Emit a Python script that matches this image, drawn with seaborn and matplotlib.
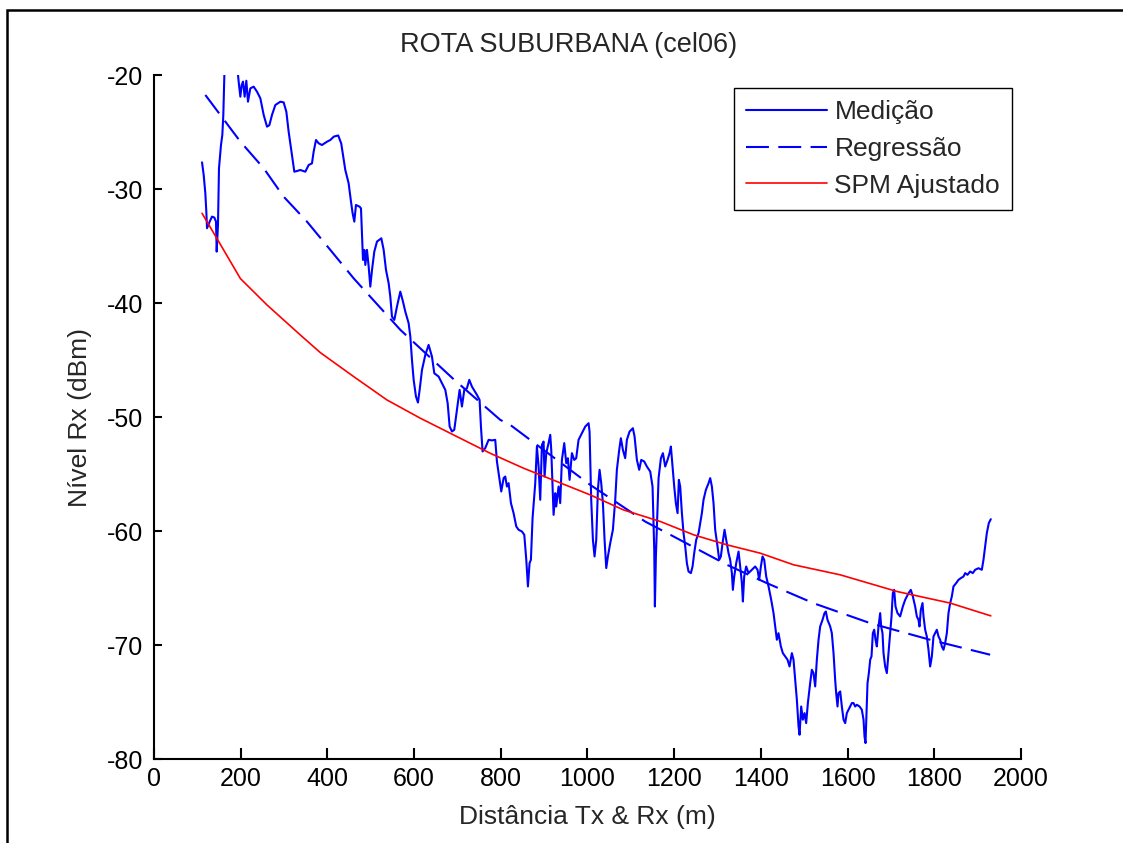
import matplotlib
matplotlib.use('Agg')
import matplotlib.pyplot as plt
import seaborn as sns
from matplotlib.patches import Rectangle

# Medição (distância em m, nível em dBm)
dist_medicao = [
    110.9, 114.7, 118.5, 120.8, 122.4, 128.5, 133.9, 139.3, 143.1, 144.7,
    147.7, 150.0, 154.6, 157.7, 160.0, 162.4, 172.0, 185.0, 193.9, 196.2,
    199.3, 202.3, 205.4, 209.2, 213.1, 216.9, 222.3, 230.0, 237.7, 245.4,
    253.1, 260.8, 266.2, 272.3, 280.0, 291.5, 299.2, 305.4, 310.7, 318.4,
    323.8, 330.0, 337.6, 349.2, 356.9, 364.5, 368.4, 373.8, 379.9, 387.6,
    399.1, 406.8, 415.0, 425.0, 432.0, 441.4, 449.1, 454.5, 458.3, 462.2,
    466.0, 474.5, 477.6, 479.9, 482.2, 485.3, 487.6, 491.4, 495.3, 499.1,
    503.0, 508.3, 514.5, 524.5, 529.9, 535.3, 541.4, 545.2, 549.1, 554.5,
    560.6, 568.3, 574.5, 579.8, 587.5, 591.4, 595.2, 599.1, 604.4, 609.0,
    612.9, 618.3, 626.0, 633.6, 641.3, 646.7, 656.7, 664.4, 672.1, 677.5,
    682.1, 687.4, 692.8, 699.0, 705.1, 710.5, 715.9, 722.0, 727.4, 733.5,
    745.1, 751.2, 754.3, 758.1, 764.3, 772.0, 779.7, 787.3, 791.2, 797.3,
    801.2, 806.6, 810.4, 814.3, 818.1, 823.5, 829.6, 835.8, 841.2, 848.9,
    854.3, 858.9, 862.7, 866.5, 869.6, 873.4, 879.6, 883.4, 887.3, 891.1,
    895.0, 898.8, 901.1, 905.0, 910.3, 914.2, 916.5, 921.9, 925.7, 928.0,
    933.4, 937.2, 941.1, 946.5, 951.1, 954.9, 958.8, 964.2, 969.5, 974.1,
    979.5, 987.2, 994.9, 1002.6, 1004.9, 1008.7, 1012.6, 1016.4, 1020.3, 1024.1,
    1028.0, 1031.8, 1035.7, 1039.5, 1043.4, 1047.2, 1052.6, 1058.7, 1064.1, 1067.9,
    1073.3, 1077.1, 1081.8, 1087.1, 1091.0, 1097.1, 1104.8, 1108.7, 1114.1, 1119.4,
    1124.1, 1131.0, 1137.1, 1144.8, 1150.2, 1154.1, 1155.6, 1157.9, 1160.2, 1164.1,
    1169.5, 1174.1, 1179.4, 1184.8, 1189.4, 1192.5, 1196.3, 1200.2, 1204.0, 1207.9,
    1210.9, 1214.0, 1217.9, 1221.7, 1225.6, 1229.4, 1233.2, 1238.6, 1242.5, 1246.3,
    1250.9, 1256.3, 1260.2, 1264.0, 1267.8, 1273.2, 1279.4, 1283.2, 1287.1, 1290.9,
    1294.7, 1300.1, 1304.0, 1307.8, 1311.7, 1316.3, 1320.1, 1325.5, 1329.3, 1333.2,
    1335.5, 1338.6, 1343.2, 1348.6, 1352.4, 1356.3, 1358.6, 1361.6, 1366.2, 1371.6,
    1379.3, 1387.0, 1392.4, 1396.2, 1400.1, 1403.9, 1407.8, 1412.4, 1417.8, 1423.9,
    1429.3, 1433.1, 1437.0, 1440.8, 1446.2, 1450.8, 1456.2, 1461.6, 1466.2, 1471.6,
    1475.4, 1479.3, 1483.1, 1487.0, 1489.3, 1493.1, 1496.9, 1500.8, 1504.6, 1508.5,
    1513.8, 1517.7, 1521.5, 1525.4, 1529.2, 1533.1, 1536.9, 1542.3, 1546.9, 1550.0,
    1553.8, 1560.0, 1563.8, 1567.7, 1571.5, 1573.8, 1576.9, 1579.2, 1583.1, 1586.9,
    1590.8, 1594.6, 1598.4, 1602.3, 1606.1, 1610.0, 1613.8, 1617.7, 1621.5, 1627.7,
    1633.0, 1636.9, 1639.2, 1641.5, 1643.0, 1646.1, 1649.2, 1652.3, 1655.3, 1658.4,
    1661.5, 1664.6, 1667.6, 1671.5, 1675.3, 1677.6, 1680.7, 1683.0, 1686.8, 1690.7,
    1694.5, 1698.4, 1701.5, 1704.5, 1707.6, 1710.7, 1715.3, 1721.4, 1727.6, 1733.0,
    1740.7, 1746.0, 1750.7, 1756.0, 1759.9, 1763.7, 1766.0, 1769.1, 1773.0, 1775.3,
    1779.1, 1782.9, 1786.8, 1790.6, 1794.5, 1798.3, 1802.2, 1806.0, 1809.9, 1813.7,
    1817.5, 1821.4, 1825.2, 1829.1, 1832.9, 1836.8, 1840.6, 1844.4, 1850.6, 1856.0,
    1861.4, 1867.5, 1871.4, 1876.7, 1882.9, 1889.0, 1894.4, 1902.1, 1909.8, 1913.6,
    1917.5, 1921.3, 1925.9, 1930.5]

nivel_medicao = [
    -27.66, -28.77, -30.37, -31.99, -33.44, -32.86, -32.42, -32.5, -32.86, -35.49,
    -33.15, -28.18, -26.14, -25.26, -23.5, -20.0, -16.0, -17.0, -20.0, -20.88,
    -21.9, -20.88, -20.58, -21.9, -20.5, -22.34, -21.17, -21.02, -21.46, -22.04,
    -23.5, -24.53, -24.4, -23.5, -22.63, -22.34, -22.4, -23.22, -24.97, -27.0,
    -28.48, -28.42, -28.33, -28.48, -27.89, -27.75, -26.72, -25.7, -25.99, -26.14,
    -25.85, -25.7, -25.4, -25.3, -26.0, -28.33, -29.5, -31.1, -32.13, -32.86,
    -31.4, -31.55, -31.7, -33.88, -36.22, -35.34, -36.66, -35.34, -36.81, -38.56,
    -37.1, -35.49, -34.61, -34.32, -35.34, -37.1, -38.26, -39.44, -41.19, -41.48,
    -40.31, -39.0, -39.88, -40.75, -41.77, -42.94, -44.99, -46.74, -48.2, -48.73,
    -47.62, -45.87, -44.55, -43.67, -44.7, -46.16, -46.45, -47.04, -47.62, -48.78,
    -50.83, -51.27, -51.12, -49.37, -47.62, -49.08, -47.62, -47.47, -46.74, -47.33,
    -48.06, -48.5, -50.83, -53.02, -52.72, -52.0, -52.05, -52.0, -53.9, -55.51,
    -56.53, -55.36, -55.22, -56.1, -55.8, -57.55, -58.43, -59.6, -59.89, -60.04,
    -60.33, -62.52, -64.86, -62.81, -62.52, -58.87, -55.8, -52.59, -54.34, -57.26,
    -52.44, -52.15, -55.22, -53.17, -52.29, -51.56, -52.88, -58.58, -56.68, -57.85,
    -56.1, -57.55, -53.76, -52.29, -54.05, -53.61, -55.51, -53.17, -53.76, -53.61,
    -52.0, -51.42, -50.84, -50.54, -51.28, -57.26, -60.77, -62.23, -60.77, -56.39,
    -54.63, -55.8, -57.55, -60.77, -63.25, -62.23, -61.06, -59.89, -57.26, -54.63,
    -52.88, -51.86, -52.88, -53.61, -52.0, -51.28, -50.98, -51.71, -53.76, -54.63,
    -53.76, -53.9, -54.34, -54.78, -56.1, -61.65, -66.62, -62.23, -59.6, -55.36,
    -53.61, -53.17, -54.34, -53.76, -53.17, -52.59, -54.34, -56.1, -57.56, -58.43,
    -55.51, -56.1, -58.43, -60.19, -61.36, -62.82, -63.55, -63.69, -63.11, -61.94,
    -60.77, -60.19, -59.31, -58.43, -57.26, -56.39, -55.8, -55.36, -56.1, -57.56,
    -59.89, -61.36, -62.53, -62.23, -61.06, -59.89, -60.77, -61.94, -62.53, -63.69,
    -65.16, -63.99, -62.82, -61.8, -63.11, -64.57, -66.18, -63.99, -63.11, -63.69,
    -63.4, -63.11, -63.4, -64.28, -63.11, -62.23, -62.53, -63.99, -64.86, -66.03,
    -67.2, -68.37, -69.54, -68.96, -70.12, -70.71, -71.0, -71.29, -71.88, -70.71,
    -71.29, -73.05, -74.8, -77.14, -77.87, -75.39, -76.55, -75.97, -76.85, -75.09,
    -73.34, -72.17, -72.46, -73.63, -71.29, -69.54, -68.37, -67.79, -67.2, -67.06,
    -67.79, -68.37, -68.96, -70.71, -73.05, -74.22, -75.39, -74.22, -74.07, -75.39,
    -76.55, -76.85, -75.97, -75.68, -75.39, -75.09, -75.09, -75.39, -75.24, -75.39,
    -75.68, -76.55, -78.02, -78.6, -76.85, -73.34, -72.46, -71.29, -71.0, -68.96,
    -68.66, -69.54, -70.12, -68.37, -67.2, -68.37, -68.96, -70.71, -71.88, -72.46,
    -70.71, -68.96, -67.49, -65.45, -65.16, -66.62, -67.2, -67.49, -66.62, -66.03,
    -65.45, -65.16, -65.74, -66.62, -67.49, -67.79, -68.37, -66.91, -66.32, -67.49,
    -68.66, -69.25, -70.42, -71.88, -71.0, -69.25, -68.96, -68.66, -69.25, -69.54,
    -70.12, -70.42, -69.83, -68.96, -67.2, -66.32, -65.74, -64.86, -64.57, -64.28,
    -64.13, -63.99, -63.69, -63.84, -63.55, -63.69, -63.4, -63.26, -63.4, -62.53,
    -61.36, -60.19, -59.31, -58.96]

# Regressão
dist_regressao = [118.5, 199.3, 253.1, 299.2, 353.0, 406.8, 460.6, 568.3, 691.2, 798.9,
                  821.9, 1006.4, 1133.3, 1198.7, 1321.7, 1413.9, 1521.5, 1652.3, 1790.6, 1929.0]
nivel_regressao = [-21.75, -25.84, -28.18, -30.67, -32.86, -35.34, -37.83, -42.35, -46.68, -50.25,
                   -50.69, -55.95, -59.17, -60.48, -62.96, -64.57, -66.33, -68.08, -69.54, -70.85]

# SPM Ajustado
dist_spm = [110.9, 145.4, 199.3, 260.8, 337.6, 383.8, 460.6, 537.4, 614.3, 691.2, 775.8, 852.7,
            929.6, 1006.4, 1083.3, 1167.9, 1244.8, 1321.7, 1398.5, 1475.4, 1583.0, 1713.8,
            1836.8, 1930.5]
nivel_spm = [-32.13, -34.35, -37.85, -40.17, -42.8, -44.35, -46.45, -48.5, -50.1, -51.57, -53.18,
             -54.49, -55.66, -56.83, -58.15, -59.16, -60.33, -61.21, -61.94, -62.96, -63.84,
             -65.3, -66.32, -67.44]

x_ticks = list(range(0, 2001, 200))
y_ticks = list(range(-80, -19, 10))

sns.set_style('ticks')
plt.rcParams['font.family'] = ['Liberation Sans', 'DejaVu Sans']
plt.rcParams['axes.unicode_minus'] = False

fig = plt.figure(figsize=(11.23, 8.43), dpi=100)
ax = fig.add_axes([0.1371, 0.0996, 0.7720, 0.8114])

sns.lineplot(x=dist_medicao, y=nivel_medicao, ax=ax, color='#0000ff', lw=1.5,
             label='Medição', estimator=None, sort=False)
sns.lineplot(x=dist_regressao, y=nivel_regressao, ax=ax, color='#0000ff', lw=1.5,
             label='Regressão', estimator=None, sort=False)
ax.lines[-1].set_dashes([11, 4.5])
sns.lineplot(x=dist_spm, y=nivel_spm, ax=ax, color='#ff0000', lw=1.2,
             label='SPM Ajustado', estimator=None, sort=False)

ax.set_xlim(0, 2000)
ax.set_ylim(-80, -20)
ax.set_xticks(x_ticks)
ax.set_yticks(y_ticks)

# estilo MATLAB: sem caixa, ticks para dentro
ax.spines['top'].set_visible(False)
ax.spines['right'].set_visible(False)
for s in ['left', 'bottom']:
    ax.spines[s].set_color('black')
    ax.spines[s].set_linewidth(1.5)
ax.tick_params(axis='both', direction='in', width=1.5, color='black',
               labelsize=18, labelcolor='black')
ax.tick_params(axis='x', length=8, pad=5.5)
ax.tick_params(axis='y', length=5.5, pad=8)

ax.set_title('ROTA SUBURBANA (cel06)', fontsize=19.5, x=0.4787, y=1.0438,
             va='center', pad=0)
ax.set_xlabel('Distância Tx & Rx (m)', fontsize=19)
ax.set_ylabel('Nível Rx (dBm)', fontsize=19)
ax.xaxis.set_label_coords(0.5, -0.0668)
ax.yaxis.set_label_coords(-0.072, 0.5)

handles, labels = ax.get_legend_handles_labels()
leg = ax.legend(handles, labels, loc='upper right',
                bbox_to_anchor=(1012 / 1123, 1 - 88 / 843),
                bbox_transform=fig.transFigure, borderaxespad=0,
                fontsize=19, frameon=True, fancybox=False, framealpha=1,
                edgecolor='black', borderpad=0.45, labelspacing=0.49,
                handlelength=3.1, handletextpad=0.27)
leg.get_frame().set_linewidth(1.0)

# moldura externa da figura
fig.patches.append(Rectangle((6.7 / 1123, -0.05), 1.1, 1 - 10 / 843 + 0.05,
                             transform=fig.transFigure, fill=False,
                             edgecolor='black', lw=1.8))

fig.savefig('out.png', dpi=100)
plt.close()
